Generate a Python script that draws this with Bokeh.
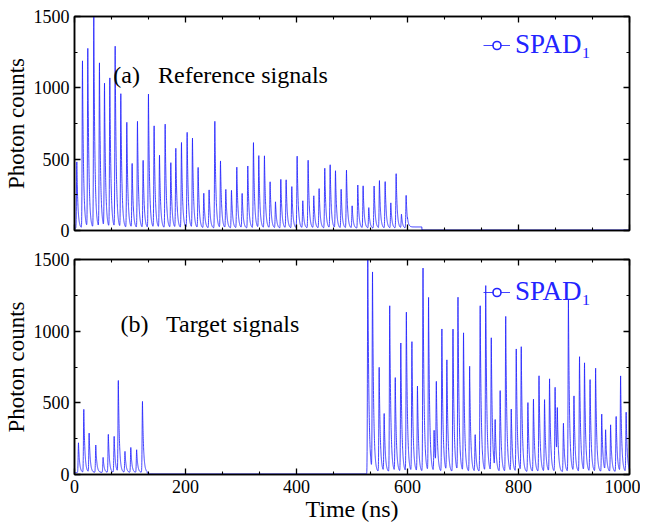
import numpy as np
from bokeh.plotting import figure
from bokeh.models import (Range1d, LinearAxis, FixedTicker, Label, Legend, LegendItem,
                          CustomLabelingPolicy)
from bokeh.layouts import column
from bokeh.embed import file_html
from bokeh.resources import INLINE

# ---- data (time in ns, photon counts) ----
top_peak_t = [4.2, 14.4, 24.0, 34.8, 45.0, 54.1, 63.7, 73.3, 83.5, 94.3, 103.9, 113.5,
              123.7, 133.3, 143.5, 153.2, 163.4, 173.6, 182.6, 192.8, 203.0, 212.6, 222.8,
              233.0, 242.6, 252.9, 263.1, 272.7, 282.9, 292.5, 302.1, 312.3, 322.5, 332.1,
              342.3, 352.5, 362.2, 371.8, 381.4, 391.6, 401.2, 411.4, 421.0, 431.2, 440.8,
              451.0, 460.7, 470.3, 480.5, 490.1, 500.3, 510.5, 520.1, 530.3, 539.9, 549.5,
              559.8, 570.0, 579.6, 589.2, 597.6]
top_peak_h = [481, 1187, 1269, 1500, 1168, 1023, 1063, 1285, 953, 755, 465, 762,
              488, 953, 729, 523, 743, 472, 572, 614, 685, 643, 439,
              259, 283, 764, 484, 285, 280, 442, 257, 451, 614, 521,
              521, 339, 199, 357, 353, 306, 519, 206, 491, 241, 292,
              435, 458, 416, 287, 421, 171, 318, 311, 159, 311, 348,
              341, 192, 397, 112, 245]

bot_peak_t = [7.2, 16.8, 26.4, 38.4, 51.6, 61.0, 71.5, 79.0, 91.0, 101.5, 112.0, 122.5,
              528.5, 537, 549, 558, 568, 578, 588, 598, 608, 618, 628, 638, 648, 652,
              662, 671, 682, 691, 701, 712, 722, 731, 741, 751, 758, 767, 777, 787,
              796, 805, 817, 827, 837, 847, 856, 866, 870, 881, 890, 900, 910, 919,
              929, 939, 950, 957, 966, 976, 984, 994]
bot_peak_h = [221, 453, 286, 205, 119, 279, 265, 651, 160, 188, 172, 509,
              1520, 1396, 745, 419, 1175, 670, 914, 1128, 921, 612, 1437, 1228, 302, 614,
              1012, 791, 1012, 1228, 982, 752, 274, 1175, 1312, 947, 360, 582, 1100, 451,
              872, 884, 500, 523, 686, 519, 663, 605, 395, 356, 1216, 542, 819, 772,
              658, 738, 419, 302, 344, 403, 682, 431]

top_base_edges = [0, 600, 626, 1000]
top_base_level = [15, 25, 3]
bot_base_edges = [0, 131, 527, 1001]
bot_base_level = [14, 4, 16]

x_ticks = [0, 200, 400, 600, 800, 1000]
x_minor = [k * 200 / 3 for k in range(16) if k % 3]
y_ticks = [0, 500, 1000, 1500]
y_minor = [250, 750, 1250]

BLUE = "#2323ff"
SERIF = "'Liberation Serif', 'Times New Roman', serif"


def waveform(t, pt, ph, edges, levels):
    base = np.zeros_like(t)
    for a, b, lv in zip(edges[:-1], edges[1:], levels):
        base[(t >= a) & (t < b)] = lv
    y = base.copy()
    for tp, h in zip(pt, ph):
        dt = t - tp
        shape = np.where(dt < 0, np.exp(-0.5 * (dt / 0.6) ** 2), np.exp(-np.clip(dt, 0, None) / 1.9))
        b0 = base[min(int(tp * 10), len(base) - 1)]
        y += (h - b0) * shape
    return y


t = np.arange(0, 1000.05, 0.1)
y_top = waveform(t, top_peak_t, top_peak_h, top_base_edges, top_base_level)
y_bot = waveform(t, bot_peak_t, bot_peak_h, bot_base_edges, bot_base_level)


def style_axis(ax, show_labels):
    ax.axis_line_width = 1.5
    ax.axis_line_color = "black"
    ax.major_tick_in = 6
    ax.major_tick_out = 0
    ax.minor_tick_in = 3
    ax.minor_tick_out = 0
    ax.major_tick_line_width = 1.3
    ax.minor_tick_line_width = 1.1
    ax.major_label_text_font = SERIF
    ax.major_label_text_color = "black"
    if show_labels:
        ax.major_label_text_font_size = "18px"
        ax.major_label_standoff = 5
    else:
        ax.major_label_text_font_size = "1px"
        ax.major_label_standoff = 0
        ax.major_label_policy = CustomLabelingPolicy(
            code="for (const i of indices) indices.unset(i)")
    ax.axis_label_text_font = SERIF
    ax.axis_label_text_font_style = "normal"
    ax.axis_label_text_color = "black"


def make_fig(y, top, fh, bottom, show_x, text, tx, ty, leg_y):
    p = figure(frame_width=555, frame_height=fh, output_backend="svg", toolbar_location=None,
               x_range=Range1d(0, 1000), y_range=Range1d(0, 1500),
               min_border_left=68, min_border_right=11, min_border_top=top,
               min_border_bottom=bottom)
    p.grid.visible = False
    p.outline_line_color = "black"
    p.outline_line_width = 1.5
    p.background_fill_color = "white"
    p.border_fill_color = "white"
    r = p.line(t, y, line_color=BLUE, line_width=1.0, line_alpha=0.85)
    d = p.scatter(x=[np.nan], y=[np.nan], marker="circle", size=7, fill_color="white",
                  line_color=BLUE, line_width=1.6)
    p.xaxis.ticker = FixedTicker(ticks=x_ticks, minor_ticks=x_minor)
    p.yaxis.ticker = FixedTicker(ticks=y_ticks, minor_ticks=y_minor)
    style_axis(p.xaxis[0], show_x)
    style_axis(p.yaxis[0], True)
    p.yaxis.axis_label = "Photon counts"
    p.yaxis.axis_label_text_font_size = "23px"
    p.yaxis.axis_label_standoff = 2
    if show_x:
        p.xaxis.axis_label = "Time (ns)"
        p.xaxis.axis_label_text_font_size = "24px"
        p.xaxis.axis_label_standoff = 0
    ra = LinearAxis(ticker=FixedTicker(ticks=y_ticks, minor_ticks=y_minor))
    style_axis(ra, False)
    p.add_layout(ra, "right")
    ta = LinearAxis(ticker=FixedTicker(ticks=x_ticks, minor_ticks=x_minor))
    style_axis(ta, False)
    p.add_layout(ta, "above")
    lab = Label(x=tx, y=ty, text=text, text_font=SERIF, text_font_size="24px",
                text_baseline="middle", text_color="black")
    p.add_layout(lab)
    leg = Legend(items=[LegendItem(label="SPAD\u2081", renderers=[r, d])],
                 location=(409, leg_y), label_text_font=SERIF, label_text_font_size="27px",
                 label_text_color=BLUE, border_line_color=None, background_fill_alpha=0,
                 glyph_width=27, glyph_height=20, label_standoff=5, padding=4, margin=0)
    p.add_layout(leg)
    return p


p1 = make_fig(y_top, 16, 214, 15, False, "(a)\u00a0\u00a0 Reference signals", 70, 1093, 170)
p2 = make_fig(y_bot, 14, 215, 48, True, "(b)\u00a0\u00a0 Target signals", 83, 1047, 167)

layout = column(p1, p2, spacing=0)
open("out.html", "w").write(file_html(layout, INLINE))
